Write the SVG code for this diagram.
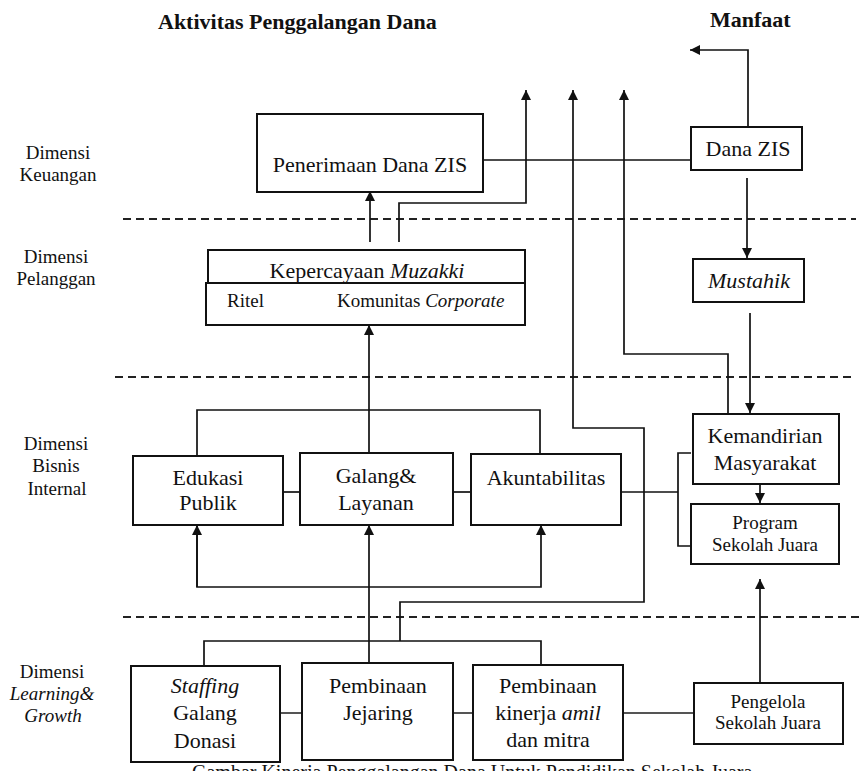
<svg xmlns="http://www.w3.org/2000/svg" width="862" height="771" viewBox="0 0 862 771" font-family="'Liberation Serif', 'DejaVu Serif', serif">
<style>
text{font-family:'Liberation Serif','DejaVu Serif',serif;fill:#111;}
.t{font-size:22px;text-anchor:middle;}
.s{font-size:19px;text-anchor:middle;}
.dim{font-size:19px;text-anchor:middle;}
.h{font-size:22px;font-weight:bold;}
.box{fill:#fff;stroke:#111;stroke-width:2;}
.c{fill:none;stroke:#111;stroke-width:1.7;}
.g{fill:none;stroke:#555;stroke-width:2;}
.d{fill:none;stroke:#222;stroke-width:1.8;stroke-dasharray:8 5;}
</style>
<defs>
<marker id="ah" markerWidth="10" markerHeight="12" refX="10" refY="5" orient="auto" markerUnits="userSpaceOnUse" viewBox="0 0 10 10">
<path d="M0,0 L10,5 L0,10 Z" fill="#111"/>
</marker>
</defs>
<rect width="862" height="771" fill="#fff"/>
<g id="headers">
<text class="h" x="158" y="29">Aktivitas Penggalangan Dana</text>
<text class="h" x="710" y="27">Manfaat</text>
</g>
<g id="dimensions">
<text class="dim" x="58" y="159">Dimensi</text>
<text class="dim" x="58" y="181">Keuangan</text>
<text class="dim" x="56" y="263">Dimensi</text>
<text class="dim" x="56" y="285">Pelanggan</text>
<text class="dim" x="56" y="450">Dimensi</text>
<text class="dim" x="56" y="472">Bisnis</text>
<text class="dim" x="57" y="495">Internal</text>
<text class="dim" x="52" y="678">Dimensi</text>
<text class="dim" x="52" y="700" font-style="italic">Learning&amp;</text>
<text class="dim" x="53" y="722" font-style="italic">Growth</text>
</g>
<g id="separators">
<line class="d" x1="123" y1="219" x2="856" y2="219"/>
<line class="d" x1="115" y1="377" x2="851" y2="377"/>
<line class="d" x1="123" y1="617" x2="862" y2="617"/>
</g>
<g id="connectors">
<path class="c" d="M483,160 H691"/>
<path class="c" d="M748,127 V50 H690" marker-end="url(#ah)"/>
<path class="c" d="M399,242 V203 H526 V90" marker-end="url(#ah)"/>
<path class="c" d="M370,242 V191" marker-end="url(#ah)"/>
<path class="c" d="M400,641 V602 H644 V428 H573 V90" marker-end="url(#ah)"/>
<path class="c" d="M728,414 V354 H624 V90" marker-end="url(#ah)"/>
<path class="c" d="M747,178 V258" marker-end="url(#ah)"/>
<path class="c" d="M750,313 V413" marker-end="url(#ah)"/>
<path class="c" d="M760,484 V503" marker-end="url(#ah)"/>
<path class="c" d="M369,453 V325" marker-end="url(#ah)"/>
<path class="c" d="M197,456 V410 H540 V454"/>
<path class="c" d="M283,492 H300"/>
<path class="c" d="M453,492 H471"/>
<path class="c" d="M621,492 H678"/>
<path class="c" d="M691,453 H678 V546 H691"/>
<path class="c" d="M369,663 V525" marker-end="url(#ah)"/>
<path class="c" d="M197,525 V587 H541 V525" marker-end="url(#ah)"/>
<path class="c" d="M197,587 V525" marker-end="url(#ah)"/>
<path class="c" d="M204,665 V641 H541 V665"/>
<path class="g" d="M280,713 H302"/>
<path class="g" d="M453,713 H473"/>
<path class="g" d="M623,713 H694"/>
<path class="c" d="M760,683 V579" marker-end="url(#ah)"/>
</g>
<g id="penerimaan">
<rect class="box" x="257" y="114" width="226" height="78"/>
<text class="t" x="370" y="172">Penerimaan Dana ZIS</text>
</g>
<g id="dana-zis">
<rect class="box" x="691" y="127" width="111" height="43"/>
<text class="t" x="748" y="156">Dana ZIS</text>
</g>
<g id="kepercayaan">
<rect class="box" x="208" y="250" width="317" height="33"/>
<rect class="box" x="206" y="283" width="319" height="42"/>
<text class="t" x="367" y="278">Kepercayaan <tspan font-style="italic">Muzakki</tspan></text>
<text x="227" y="307" font-size="19">Ritel</text>
<text x="337" y="307" font-size="19">Komunitas <tspan font-style="italic">Corporate</tspan></text>
</g>
<g id="mustahik">
<rect class="box" x="693" y="259" width="111" height="43"/>
<text class="t" x="749" y="288" font-style="italic">Mustahik</text>
</g>
<g id="edukasi">
<rect class="box" x="133" y="456" width="150" height="69"/>
<text class="t" x="208" y="485">Edukasi</text>
<text class="t" x="208" y="510">Publik</text>
</g>
<g id="galang">
<rect class="box" x="300" y="453" width="153" height="72"/>
<text class="t" x="376" y="483">Galang&amp;</text>
<text class="t" x="376" y="510">Layanan</text>
</g>
<g id="akuntabilitas">
<rect class="box" x="471" y="454" width="150" height="71"/>
<text class="t" x="546" y="485">Akuntabilitas</text>
</g>
<g id="kemandirian">
<rect class="box" x="693" y="414" width="146" height="70"/>
<text class="t" x="765" y="443">Kemandirian</text>
<text class="t" x="765" y="470">Masyarakat</text>
</g>
<g id="program">
<rect class="box" x="691" y="504" width="148" height="60"/>
<text class="s" x="765" y="529">Program</text>
<text class="s" x="765" y="551">Sekolah Juara</text>
</g>
<g id="staffing">
<rect class="box" x="131" y="666" width="149" height="96"/>
<text class="t" x="205" y="693" font-style="italic">Staffing</text>
<text class="t" x="205" y="720">Galang</text>
<text class="t" x="205" y="748">Donasi</text>
</g>
<g id="jejaring">
<rect class="box" x="302" y="663" width="151" height="97"/>
<text class="t" x="378" y="693">Pembinaan</text>
<text class="t" x="378" y="720">Jejaring</text>
</g>
<g id="kinerja">
<rect class="box" x="473" y="665" width="150" height="95"/>
<text class="t" x="548" y="693">Pembinaan</text>
<text class="t" x="548" y="720">kinerja <tspan font-style="italic">amil</tspan></text>
<text class="t" x="548" y="747">dan mitra</text>
</g>
<g id="pengelola">
<rect class="box" x="694" y="683" width="149" height="61"/>
<text class="s" x="768" y="708">Pengelola</text>
<text class="s" x="768" y="729">Sekolah Juara</text>
</g>
<g id="caption">
<text x="192" y="779" font-size="20">Gambar Kinerja Penggalangan Dana Untuk Pendidikan Sekolah Juara</text>
</g>
</svg>
